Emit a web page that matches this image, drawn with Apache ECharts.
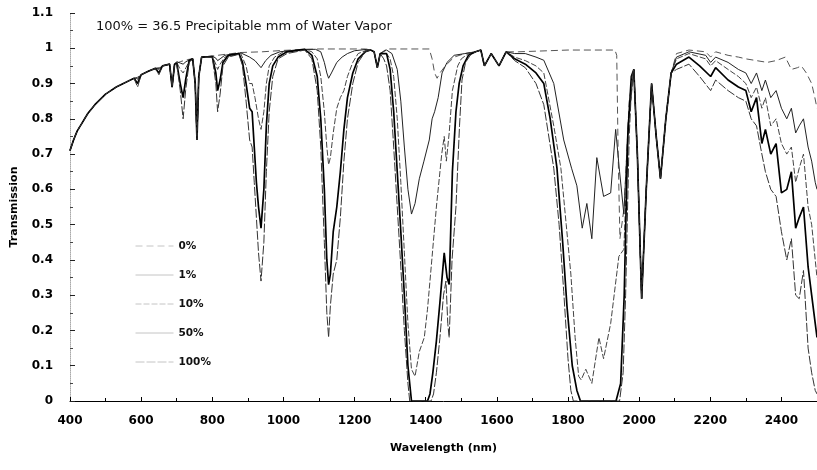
<!DOCTYPE html>
<html lang="en">
<head>
    <meta charset="UTF-8">
    <title>Transmission</title>
    <script src="https://cdn.jsdelivr.net/npm/echarts/dist/echarts.min.js"></script>
    <style>
        html, body { margin: 0; padding: 0; background: #fff; }
        #chart { width: 817px; height: 470px; }
    </style>
</head>
<body>
<div id="chart"></div>
<script>
    // legend names (share of 36.5 mm precipitable water)
    const seriesNames = ['0%', '1%', '10%', '50%', '100%'];

    // shared pieces of the spectra, [wavelength nm, transmission]
    const visBase = [[400,0.71],[410,0.74],[420,0.765],[435,0.79],[450,0.815],[470,0.84],[500,0.87],[530,0.89],[560,0.905],[580,0.915]];
    const o2B = [[680,0.955],[687,0.89],[694,0.955]];
    const o2A = [[745,0.97],[752,0.9],[757,0.74],[762,0.92],[770,0.975]];
    const o2Ir = [[1245,0.995],[1255,0.99],[1264,0.945],[1272,0.985]];
    const co2Mid = [[1540,0.99],[1555,0.995],[1565,0.95],[1584,0.985],[1606,0.95],[1626,0.99]];
    const co2Band = [[1985,0.94],[1995,0.7],[2007,0.29],[2020,0.6],[2035,0.9],[2048,0.75],[2060,0.63],[2075,0.8],[2090,0.93]];

    const trans0 = [...visBase,[590,0.918],[600,0.925],[620,0.935],[640,0.943],[650,0.945],[660,0.95],...o2B,[710,0.962],[730,0.968],...o2A,
        [800,0.978],[830,0.982],[880,0.988],[940,0.99],[1000,0.994],[1100,0.998],[1230,0.998],...o2Ir,[1290,0.998],[1410,0.998],
        [1418,0.97],[1425,0.93],[1432,0.915],[1440,0.93],[1455,0.95],[1480,0.975],[1510,0.985],...co2Mid,[1660,0.99],[1800,0.995],
        [1932,0.995],[1937,0.98],[1941,0.7],[1946,0.46],[1958,0.55],[1972,0.85],...co2Band,[2105,0.985],[2140,0.995],[2187,0.99],
        [2201,0.975],[2215,0.99],[2250,0.98],[2279,0.975],[2300,0.97],[2330,0.965],[2360,0.96],[2385,0.965],[2411,0.975],[2428,0.94],
        [2445,0.945],[2456,0.95],[2470,0.93],[2485,0.9],[2494,0.86],[2500,0.83]];

    const trans1 = [...visBase,[590,0.915],[600,0.925],[620,0.935],[640,0.943],[650,0.943],[660,0.95],...o2B,[700,0.962],[710,0.958],
        [718,0.955],[726,0.962],[738,0.968],...o2A,[800,0.978],[810,0.972],[815,0.965],[822,0.97],[835,0.98],[880,0.987],[905,0.975],
        [920,0.965],[937,0.945],[950,0.965],[965,0.98],[990,0.99],[1050,0.997],[1090,0.997],[1105,0.99],[1115,0.96],[1122,0.93],
        [1127,0.915],[1135,0.93],[1150,0.96],[1165,0.975],[1180,0.985],[1200,0.993],[1235,0.997],...o2Ir,[1290,0.995],[1305,0.985],
        [1320,0.94],[1330,0.85],[1340,0.72],[1350,0.6],[1360,0.53],[1370,0.56],[1382,0.63],[1395,0.68],[1410,0.74],[1418,0.8],
        [1425,0.82],[1435,0.86],[1446,0.93],[1460,0.96],[1480,0.98],[1510,0.985],...co2Mid,[1650,0.985],[1680,0.985],[1710,0.975],
        [1732,0.966],[1760,0.9],[1788,0.74],[1810,0.66],[1825,0.61],[1840,0.49],[1853,0.56],[1867,0.46],[1881,0.69],[1900,0.58],
        [1920,0.59],[1934,0.77],[1945,0.65],[1957,0.53],[1970,0.8],...co2Band,[2105,0.975],[2140,0.99],[2187,0.98],[2201,0.96],
        [2215,0.975],[2250,0.96],[2279,0.94],[2300,0.93],[2315,0.9],[2330,0.93],[2345,0.88],[2355,0.91],[2370,0.86],[2385,0.88],
        [2400,0.83],[2415,0.8],[2428,0.83],[2440,0.76],[2450,0.78],[2462,0.8],[2475,0.72],[2485,0.68],[2495,0.62],[2500,0.6]];

    const trans10 = [...visBase,[590,0.91],[600,0.925],[620,0.935],[640,0.943],[650,0.94],[660,0.95],...o2B,[700,0.96],[710,0.94],
        [718,0.93],[726,0.945],[738,0.968],...o2A,[800,0.977],[810,0.955],[815,0.94],[822,0.955],[835,0.975],[880,0.985],[895,0.95],
        [905,0.9],[912,0.9],[920,0.86],[930,0.8],[937,0.77],[945,0.82],[952,0.9],[960,0.95],[975,0.975],[1000,0.99],[1060,0.997],
        [1080,0.99],[1095,0.97],[1105,0.92],[1115,0.82],[1122,0.72],[1127,0.67],[1132,0.69],[1140,0.76],[1150,0.83],[1160,0.86],
        [1170,0.88],[1180,0.92],[1195,0.96],[1210,0.985],[1235,0.995],...o2Ir,[1290,0.985],[1300,0.97],[1310,0.92],[1320,0.8],
        [1330,0.62],[1340,0.42],[1350,0.22],[1360,0.09],[1370,0.07],[1382,0.14],[1396,0.18],[1405,0.26],[1418,0.41],[1430,0.55],
        [1445,0.7],[1452,0.75],[1458,0.68],[1466,0.76],[1475,0.88],[1490,0.95],[1500,0.97],[1520,0.985],...co2Mid,[1650,0.975],
        [1680,0.965],[1710,0.95],[1732,0.93],[1760,0.78],[1780,0.66],[1795,0.5],[1808,0.36],[1820,0.18],[1830,0.07],[1837,0.06],
        [1850,0.09],[1867,0.05],[1887,0.18],[1900,0.12],[1920,0.22],[1943,0.41],[1957,0.43],[1970,0.78],...co2Band,[2105,0.97],
        [2140,0.985],[2187,0.97],[2201,0.95],[2215,0.965],[2250,0.94],[2279,0.92],[2300,0.9],[2315,0.86],[2330,0.89],[2345,0.83],
        [2355,0.86],[2370,0.78],[2385,0.8],[2400,0.73],[2415,0.7],[2428,0.72],[2440,0.62],[2450,0.66],[2462,0.7],[2475,0.55],
        [2485,0.5],[2495,0.4],[2500,0.35]];

    const trans50 = [...visBase,[590,0.9],[600,0.925],[620,0.935],[640,0.943],[650,0.93],[660,0.95],...o2B,[700,0.958],[710,0.9],
        [718,0.86],[725,0.91],[735,0.965],...o2A,[800,0.976],[810,0.93],[815,0.88],[822,0.91],[830,0.96],[845,0.98],[875,0.985],
        [885,0.96],[895,0.9],[905,0.83],[912,0.82],[918,0.72],[924,0.62],[930,0.55],[937,0.49],[945,0.6],[952,0.78],[960,0.9],
        [970,0.95],[985,0.975],[1010,0.99],[1060,0.997],[1080,0.98],[1095,0.92],[1105,0.8],[1115,0.6],[1122,0.4],[1127,0.33],
        [1132,0.36],[1140,0.48],[1150,0.55],[1160,0.65],[1170,0.77],[1180,0.86],[1195,0.93],[1210,0.97],[1230,0.99],...o2Ir,
        [1290,0.985],[1300,0.94],[1310,0.82],[1320,0.65],[1330,0.48],[1340,0.3],[1350,0.1],[1360,0],[1405,0],[1412,0.02],[1420,0.08],
        [1430,0.17],[1440,0.28],[1452,0.42],[1460,0.35],[1466,0.33],[1475,0.65],[1485,0.82],[1494,0.9],[1505,0.95],[1520,0.98],
        ...co2Mid,[1650,0.97],[1680,0.955],[1710,0.93],[1732,0.9],[1750,0.8],[1769,0.66],[1785,0.45],[1797,0.27],[1812,0.1],
        [1825,0.03],[1835,0],[1935,0],[1948,0.05],[1958,0.3],[1968,0.75],[1978,0.92],...co2Band,[2105,0.955],[2140,0.975],
        [2170,0.95],[2201,0.92],[2215,0.945],[2250,0.91],[2279,0.89],[2300,0.88],[2315,0.82],[2330,0.86],[2345,0.73],[2355,0.77],
        [2370,0.7],[2385,0.73],[2400,0.59],[2415,0.6],[2428,0.65],[2440,0.49],[2450,0.52],[2462,0.55],[2475,0.38],[2485,0.3],
        [2495,0.22],[2500,0.18]];

    const trans100 = [...visBase,[590,0.89],[600,0.925],[620,0.935],[640,0.943],[650,0.925],[660,0.95],...o2B,[700,0.955],[710,0.88],
        [718,0.8],[725,0.88],[735,0.96],...o2A,[800,0.975],[810,0.9],[815,0.82],[822,0.87],[830,0.95],[845,0.975],[875,0.983],
        [885,0.95],[895,0.85],[905,0.74],[912,0.72],[918,0.62],[924,0.52],[930,0.42],[937,0.34],[945,0.45],[952,0.65],[960,0.82],
        [970,0.92],[985,0.97],[1010,0.985],[1060,0.995],[1080,0.97],[1095,0.88],[1105,0.72],[1115,0.45],[1122,0.25],[1127,0.18],
        [1132,0.27],[1140,0.36],[1150,0.4],[1160,0.52],[1170,0.68],[1180,0.8],[1195,0.9],[1210,0.96],[1230,0.99],...o2Ir,
        [1282,0.97],[1290,0.95],[1300,0.88],[1310,0.72],[1320,0.55],[1330,0.38],[1340,0.2],[1350,0.05],[1355,0],[1415,0],
        [1422,0.02],[1430,0.08],[1440,0.18],[1450,0.3],[1457,0.34],[1462,0.22],[1466,0.18],[1474,0.4],[1485,0.55],[1495,0.78],
        [1502,0.91],[1512,0.96],[1525,0.98],...co2Mid,[1650,0.965],[1680,0.945],[1710,0.9],[1732,0.84],[1760,0.66],[1775,0.5],
        [1788,0.31],[1800,0.12],[1808,0.03],[1815,0],[1945,0],[1955,0.08],[1962,0.3],[1972,0.75],[1980,0.92],...co2Band,
        [2105,0.94],[2140,0.955],[2170,0.92],[2201,0.88],[2215,0.91],[2250,0.88],[2279,0.86],[2300,0.85],[2315,0.8],[2330,0.78],
        [2345,0.7],[2355,0.65],[2370,0.6],[2385,0.58],[2400,0.48],[2415,0.4],[2428,0.46],[2440,0.3],[2450,0.29],[2462,0.37],
        [2475,0.15],[2485,0.08],[2495,0.03],[2500,0.02]];

    const allData = [trans0, trans1, trans10, trans50, trans100];

    // line looks per series
    const looks = [
        { color: '#555', width: 1, type: [7, 4] },
        { color: '#222', width: 1, type: 'solid' },
        { color: '#444', width: 1, type: [6, 2] },
        { color: '#000', width: 1.7, type: 'solid' },
        { color: '#333', width: 1, type: [9, 2] }
    ];

    let chart = echarts.init(document.getElementById('chart'));
    let option = {
        animation: false,
        backgroundColor: '#fff',
        title: {
            text: '100% = 36.5 Precipitable mm of Water Vapor',
            left: 91,
            top: 15,
            textStyle: { fontFamily: 'DejaVu Sans', fontSize: 13, fontWeight: 'normal', color: '#111' }
        },
        legend: {
            orient: 'vertical',
            left: 130,
            top: 234,
            itemWidth: 38,
            itemHeight: 14,
            itemGap: 15,
            itemStyle: { opacity: 0 },
            lineStyle: { color: '#c4c4c4', width: 1 },
            textStyle: { fontFamily: 'DejaVu Sans', fontSize: 10.5, fontWeight: 'bold', color: '#111', lineHeight: 14 },
            data: seriesNames
        },
        grid: { left: 70, top: 13, width: 749, height: 388 },
        xAxis: {
            type: 'value',
            min: 400,
            max: 2500,
            interval: 200,
            name: 'Wavelength (nm)',
            nameLocation: 'middle',
            nameGap: 42,
            nameTextStyle: { fontFamily: 'DejaVu Sans', fontSize: 11, fontWeight: 'bold', color: '#000' },
            axisLine: { lineStyle: { color: '#000', width: 1 } },
            axisTick: { inside: true, length: 4, lineStyle: { color: '#000' } },
            minorTick: { show: true, splitNumber: 2, length: 3, lineStyle: { color: '#000' } },
            axisLabel: {
                showMaxLabel: false, margin: 14,
                fontFamily: 'DejaVu Sans', fontSize: 12, fontWeight: 'bold', color: '#000',
                formatter: function (v) { return String(v); }
            },
            splitLine: { show: false }
        },
        yAxis: {
            type: 'value',
            min: 0,
            max: 1.1,
            interval: 0.1,
            name: 'Transmission',
            nameLocation: 'middle',
            nameGap: 50,
            nameTextStyle: { fontFamily: 'DejaVu Sans', fontSize: 11, fontWeight: 'bold', color: '#000' },
            axisLine: { show: true, lineStyle: { color: '#aaa', width: 1, type: 'dotted' } },
            axisTick: { inside: true, length: 5, lineStyle: { color: '#222' } },
            minorTick: { show: true, splitNumber: 2, length: 3, lineStyle: { color: '#444' } },
            axisLabel: { margin: 17, fontFamily: 'DejaVu Sans', fontSize: 12, fontWeight: 'bold', color: '#000' },
            splitLine: { show: false }
        },
        series: seriesNames.map(function (n, i) {
            return {
                name: n,
                type: 'line',
                data: allData[i],
                showSymbol: false,
                symbol: 'none',
                lineStyle: looks[i],
                itemStyle: { color: looks[i].color },
                z: 2 + i
            };
        })
    };
    chart.setOption(option);
</script>
</body>
</html>
